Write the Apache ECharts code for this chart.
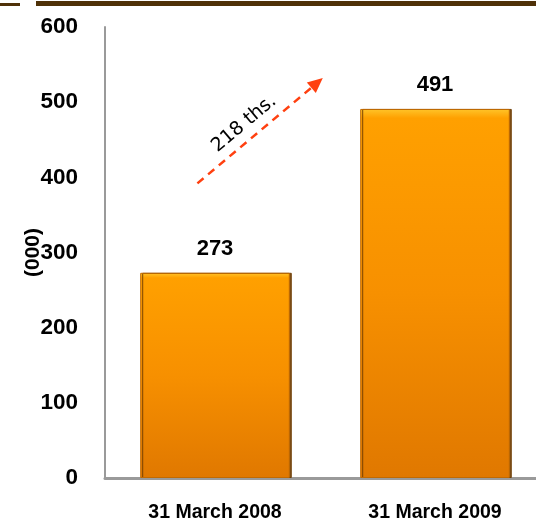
<!DOCTYPE html>
<html><head><meta charset="utf-8">
<script src="https://cdn.jsdelivr.net/npm/echarts@6/dist/echarts.min.js"></script>
<style>html,body{margin:0;padding:0;background:#fff}#c{width:536px;height:525px}</style>
</head><body><div id="c"></div>
<script>
const categories = ['31 March 2008', '31 March 2009'];
const values = [273, 491];
const yTicks = [0, 100, 200, 300, 400, 500, 600];
const axisName = '(000)';
const arrowLabel = '218 ths.';
// arrow endpoints in data terms: [category position (index), value]
const arrowFrom = [-0.08, 392];
const arrowTo = [0.49, 532];

const chart = echarts.init(document.getElementById('c'));
const font = '"Liberation Sans", Arial, sans-serif';
const topBars = [
  {type: 'rect', shape: {x: 0, y: 3, width: 20, height: 3}, style: {fill: '#4f3108'}},
  {type: 'rect', shape: {x: 36, y: 1, width: 500, height: 5}, style: {fill: '#4f3108'}}
];
chart.setOption({
  animation: false,
  grid: {left: 105, top: 27, bottom: 47, right: -9, outerBoundsMode: 'none', containLabel: false},
  xAxis: {
    type: 'category', data: categories,
    axisLine: {lineStyle: {color: '#9a9a9a', width: 3}},
    axisTick: {show: false},
    axisLabel: {color: '#000', fontFamily: font, fontWeight: 'bold', fontSize: 19.5, margin: 25, interval: 0}
  },
  yAxis: {
    type: 'value', min: yTicks[0], max: yTicks[yTicks.length - 1], interval: 100,
    name: axisName, nameLocation: 'middle', nameRotate: 90, nameGap: 61, nameMoveOverlap: false,
    nameTextStyle: {color: '#000', fontFamily: font, fontWeight: 'bold', fontSize: 21},
    axisLine: {show: true, lineStyle: {color: '#9a9a9a', width: 2}},
    axisTick: {show: false},
    splitLine: {show: false},
    axisLabel: {color: '#000', fontFamily: font, fontWeight: 'bold', fontSize: 22.5, margin: 27}
  },
  series: [{
    type: 'bar', data: values, barWidth: '68%',
    itemStyle: {
      color: {type: 'linear', x: 0, y: 0, x2: 0, y2: 1, colorStops: [
        {offset: 0, color: '#ffc52a'}, {offset: 0.025, color: '#ffa000'},
        {offset: 0.5, color: '#f79000'}, {offset: 1, color: '#e07800'}]},
      borderColor: '#c26a00', borderWidth: 1,
      shadowColor: 'rgba(110,60,0,0.9)', shadowOffsetX: 2, shadowBlur: 0
    },
    label: {show: true, position: 'top', distance: 13, color: '#000',
      fontFamily: font, fontWeight: 'bold', fontSize: 22}
  }],
  graphic: topBars
});

function pt(d) {
  const p0 = chart.convertToPixel({xAxisIndex: 0}, 0);
  const p1 = chart.convertToPixel({xAxisIndex: 0}, 1);
  const x = p0 + d[0] * (p1 - p0);
  const y = chart.convertToPixel({yAxisIndex: 0}, d[1]);
  return [x, y];
}
const a = pt(arrowFrom), b = pt(arrowTo);
const ang = Math.atan2(b[1] - a[1], b[0] - a[0]);
const head = 15;
const lineEnd = [b[0] - Math.cos(ang) * head, b[1] - Math.sin(ang) * head];
const perp = [-Math.sin(ang), Math.cos(ang)];
const hw = 7;
const mid = [(a[0] + b[0]) / 2, (a[1] + b[1]) / 2];
chart.setOption({
  graphic: topBars.concat([
    {type: 'line', shape: {x1: a[0], y1: a[1], x2: lineEnd[0], y2: lineEnd[1]},
      style: {stroke: '#ff4010', lineWidth: 2.5, lineDash: [8, 6]}},
    {type: 'polygon', shape: {points: [b,
      [lineEnd[0] + perp[0] * hw, lineEnd[1] + perp[1] * hw],
      [lineEnd[0] - perp[0] * hw, lineEnd[1] - perp[1] * hw]]},
      style: {fill: '#ff4010'}},
    {type: 'text', x: mid[0] - 16, y: mid[1] - 7, rotation: -ang,
      style: {text: arrowLabel, fill: '#000', font: '19px "DejaVu Sans"', align: 'center', verticalAlign: 'middle'}}
  ])
}, {replaceMerge: ['graphic']});
</script></body></html>
